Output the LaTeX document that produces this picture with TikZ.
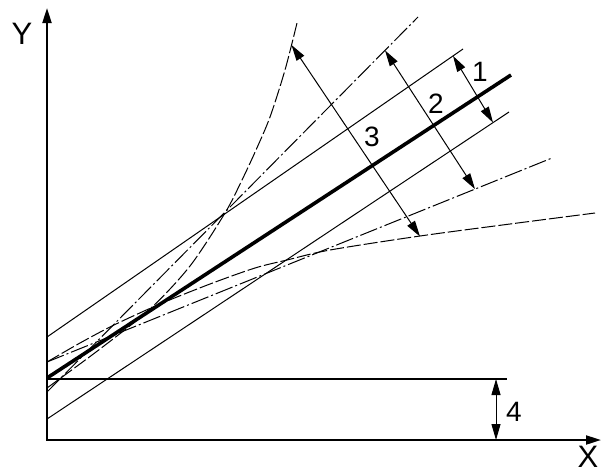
\documentclass[tikz,border=0pt]{standalone}
\usepackage{fontspec}
\setmainfont{Liberation Sans}
\usetikzlibrary{arrows.meta}
\begin{document}
\begin{tikzpicture}[x=1pt,y=-1pt,
  axis/.style={line width=2pt,{Triangle[length=15pt,width=9pt]}-{Triangle[length=15pt,width=9pt]}},
  thinline/.style={line width=1pt},
  baseline4/.style={line width=1.5pt},
  mainline/.style={line width=3.6pt},
  dashdotline/.style={line width=1pt,dash pattern=on 18pt off 3pt on 2pt off 3pt},
  dashcurve/.style={line width=1pt,dash pattern=on 14pt off 3pt},
  dim/.style={line width=1pt,{Triangle[length=16pt,width=9pt]}-{Triangle[length=16pt,width=9pt]}},
  lbl/.style={font=\fontsize{28}{28}\selectfont, inner sep=0pt},
  axlbl/.style={font=\fontsize{31}{31}\selectfont, inner sep=0pt}]
\useasboundingbox (0,0) rectangle (601,474);

% axes
\coordinate (O) at (47,440);
\coordinate (Ytip) at (47,8);
\coordinate (Xtip) at (601,440);
\draw[axis] (Ytip) -- (O) -- (Xtip);
\node[axlbl] (Ylab) at (22,34) {Y};
\node[axlbl] (Xlab) at (588,457) {X};

% offset line and dimension 4
\coordinate (h0) at (47,379);
\coordinate (h1) at (507,379);
\draw[baseline4] (h0) -- (h1);
\coordinate (d4a) at (496,379);
\coordinate (d4b) at (496,440);
\draw[dim] (d4a) -- (d4b);
\node[lbl] (l4) at (514,412) {4};

% solid band lines
\coordinate (us0) at (47,337);
\coordinate (us1) at (463,49);
\coordinate (ls0) at (47,419);
\coordinate (ls1) at (509,112);
\draw[thinline] (us0) -- (us1);
\draw[thinline] (ls0) -- (ls1);

% dash-dot lines
\coordinate (ud0) at (47,392);
\coordinate (ud1) at (418,17);
\coordinate (ld0) at (47,362);
\coordinate (ld1) at (552,158);
\draw[dashdotline] (ud0) -- (ud1);
\draw[dashdotline] (ld0) -- (ld1);

% dashed curves
\draw[dashcurve] plot[smooth] coordinates {(47,388) (100,349) (150,309) (190,266) (225,213) (242,180) (256,150) (270,117) (285,70) (297,23)};
\draw[dashcurve] plot[smooth] coordinates {(47,362) (80,343) (114,325) (160,304) (210,284) (255,268) (287,260) (330,250) (420,236) (510,224) (595,213)};

% main line
\coordinate (m0) at (47,378);
\coordinate (m1) at (511,75);
\draw[mainline] (m0) -- (m1);

% dimension 1
\coordinate (d1a) at (453,55.9);
\coordinate (d1b) at (493,122.6);
\draw[dim] (d1a) -- (d1b);
\node[lbl] (l1) at (480,72) {1};

% dimension 2
\coordinate (d2a) at (385,50.4);
\coordinate (d2b) at (475,189.1);
\draw[dim] (d2a) -- (d2b);
\node[lbl] (l2) at (436,104) {2};

% dimension 3
\coordinate (d3a) at (291.5,45);
\coordinate (d3b) at (420,236.5);
\draw[dim] (d3a) -- (d3b);
\node[lbl] (l3) at (372,137) {3};
\end{tikzpicture}
\end{document}
